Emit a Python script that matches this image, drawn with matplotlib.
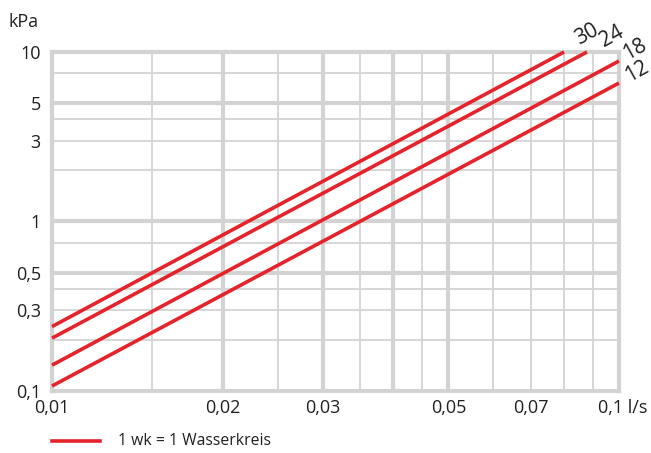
import matplotlib.pyplot as plt
from matplotlib.transforms import offset_copy

# pressure drop lines (l/s -> kPa)
flow_30 = [0.01, 0.08]
kpa_30 = [0.24, 10.0]
flow_24 = [0.01, 0.0878]
kpa_24 = [0.205, 10.0]
flow_18 = [0.01, 0.1]
kpa_18 = [0.142, 8.85]
flow_12 = [0.01, 0.1]
kpa_12 = [0.107, 6.56]
series_labels = ["30", "24", "18", "12"]

x_ticks = [0.01, 0.02, 0.03, 0.05, 0.07]
x_tick_labels = ["0,01", "0,02", "0,03", "0,05", "0,07"]
y_ticks = [0.1, 0.3, 0.5, 1, 3, 5, 10]
y_tick_labels = ["0,1", "0,3", "0,5", "1", "3", "5", "10"]

x_grid_thin = [0.015, 0.025, 0.035, 0.045, 0.06, 0.07, 0.08, 0.09]
x_grid_thick = [0.02, 0.03, 0.04, 0.05]
y_grid_thin = [0.2, 0.3, 0.4, 0.75, 2, 3, 4, 7.5]
y_grid_thick = [0.5, 1, 5]

RED = "#e4232b"
GRID = "#d3d3d3"
TXT = "#231f20"

plt.rcParams['font.family'] = ['Open Sans', 'DejaVu Sans']

fig = plt.figure(figsize=(6.51, 4.53), dpi=100)
ax = fig.add_axes([52 / 651, 1 - 391 / 453, (619 - 52) / 651, (391 - 52) / 453])
ax.set_xscale('log')
ax.set_yscale('log')
ax.set_xlim(0.01, 0.1)
ax.set_ylim(0.1, 10)

for x in x_grid_thin:
    ax.axvline(x, color=GRID, lw=1.3, zorder=1)
for x in x_grid_thick:
    ax.axvline(x, color=GRID, lw=3, zorder=1)
for y in y_grid_thin:
    ax.axhline(y, color=GRID, lw=1.3, zorder=1)
for y in y_grid_thick:
    ax.axhline(y, color=GRID, lw=3, zorder=1)

for s in ax.spines.values():
    s.set_color(GRID)
    s.set_linewidth(3)

lines = [(flow_30, kpa_30), (flow_24, kpa_24), (flow_18, kpa_18), (flow_12, kpa_12)]
for fx, ky in lines:
    ax.plot(fx, ky, color=RED, lw=2.6, solid_capstyle='butt', zorder=3, clip_on=False)

# labels at the line ends (offsets in points)
label_offsets = [(10.5, 5), (12.5, 3.6), (5.8, 0.7), (7.2, 0.7)]
for (fx, ky), lab, (dx, dy) in zip(lines, series_labels, label_offsets):
    ax.annotate(lab, (fx[-1], ky[-1]), xytext=(dx, dy), textcoords='offset points',
                rotation=29, rotation_mode='anchor', ha='left', va='baseline',
                fontsize=15, color=TXT, annotation_clip=False)

ax.minorticks_off()
ax.set_xticks(x_ticks, x_tick_labels)
ax.set_yticks(y_ticks, y_tick_labels)
ax.tick_params(length=0, labelsize=13, colors=TXT, pad=8)
ax.tick_params(axis='x', pad=6)

ax.text(0.1, 0.1, "0,1 l/s", fontsize=13, color=TXT, ha='left', va='top',
        transform=offset_copy(ax.transData, fig=fig, x=-15, y=-6, units='points'))
fig.text(9 / 651, 1 - 27 / 453, "kPa", fontsize=13, color=TXT, ha='left', va='baseline')

# legend
fig.add_artist(plt.Line2D([52 / 651, 100 / 651], [1 - 441 / 453] * 2, color=RED, lw=2.6))
fig.text(118 / 651, 1 - 441 / 453, "1 wk = 1 Wasserkreis", fontsize=11.3, color=TXT,
         ha='left', va='center')

fig.savefig("out.png", dpi=100)
